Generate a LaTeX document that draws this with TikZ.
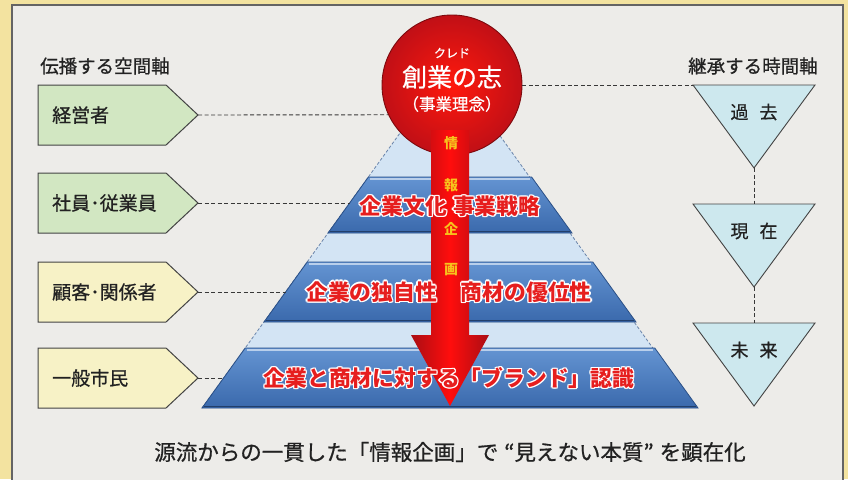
\documentclass[tikz,border=0pt]{standalone}
\usepackage{fontspec}
\setmainfont{Noto Sans CJK JP}
\newfontfamily\medfont[FakeBold=0.7]{Noto Sans CJK JP}
\usetikzlibrary{calc}
\definecolor{bgyellow}{HTML}{F3E3A0}
\definecolor{panel}{HTML}{EDECE9}
\definecolor{boxgreen}{HTML}{D2E7C2}
\definecolor{boxyellow}{HTML}{F7F2C6}
\definecolor{tri}{HTML}{CDE8EE}
\definecolor{pyrlight}{HTML}{D3E4F4}
\definecolor{bandtop}{HTML}{6494D2}
\definecolor{bandbot}{HTML}{3A69AC}
\definecolor{bandedge}{HTML}{2A4F86}
\definecolor{credred}{HTML}{E3121A}
\definecolor{txtred}{HTML}{E61E1E}
\definecolor{arrowtxt}{HTML}{F7C41C}
\definecolor{ink}{HTML}{222222}
\tikzset{
  boxline/.style={draw=ink!85, line width=1pt},
  lbl/.style={font=\medfont\fontsize{19}{19}\selectfont, text=ink, inner sep=0pt, anchor=west},
  hdr/.style={font=\medfont\fontsize{18.5}{18.5}\selectfont, text=ink, inner sep=0pt, anchor=west},
  conn/.style={draw=ink!90, line width=0.9pt, dash pattern=on 4pt off 2.5pt},
  bandtxt/.style={font=\bfseries\fontsize{21.8}{21.8}\selectfont, text=txtred, inner sep=0pt},
  bandshape/.style={top color=bandtop, bottom color=bandbot, draw=bandedge, line width=0.8pt},
  arrtxt/.style={font=\bfseries\fontsize{14}{14}\selectfont, text=arrowtxt, inner sep=0pt},
  tritxt/.style={font=\medfont\fontsize{18}{18}\selectfont, text=ink, inner sep=0pt},
  trishape/.style={fill=tri, draw=ink!85, line width=0.9pt},
  crtxt/.style={font=\medfont, text=white, inner sep=0pt},
}
\newcommand\lbox[4]{%
  \draw[boxline, fill=#3] (38,#2-30) -- (166,#2-30) -- (198,#2) -- (166,#2+30) -- (38,#2+30) -- cycle;
  \node[lbl] (#1) at (52,#2) {#4};
  \coordinate (#1tip) at (198,#2);}
\newcommand\rtri[3]{%
  \draw[trishape] (693,#2) -- (815,#2) -- (754,#2+83) -- cycle;
  \coordinate (#1TL) at (693,#2);
  \coordinate (#1top) at (754,#2);
  \coordinate (#1tip) at (754,#2+83);
  \node[tritxt] (#1) at (754,#2+27) {#3};}
\newcommand\band[4]{% ytop ybot Ltop Lbot
  \shade[bandshape] (#3,#1) -- (900-#3,#1) -- (900-#4,#2) -- (#4,#2) -- cycle;
  \draw[white!55!bandtop, line width=1.6pt] (#3+2,#1+2.2) -- (898-#3,#1+2.2);
  \draw[bandedge!80!black, line width=1.6pt] (#4+2,#2-1.5) -- (898-#4,#2-1.5);}
\newcommand\glowlabel[3]{%
  \foreach \dx/\dy in {1.3/0,-1.3/0,0/1.3,0/-1.3,1/1,-1/1,1/-1,-1/-1}{%
    \node[bandtxt, text=white] at ($(#2)+(\dx,\dy)$) {#3};}
  \node[bandtxt] (#1) at (#2) {#3};}
\begin{document}
\begin{tikzpicture}[x=1pt, y=-1pt]
\useasboundingbox (0,0) rectangle (848,479);
% background
\fill[bgyellow] (0,0) rectangle (848,479);
\draw[fill=panel, draw=ink!70, line width=1.2pt] (12,5) rectangle (843,490);
% headers
\node[hdr] (hl) at (40,66) {伝播する空間軸};
\node[hdr] (hr) at (688,66) {継承する時間軸};
% left boxes
\lbox{b1}{115}{boxgreen}{経営者}
\lbox{b2}{203}{boxgreen}{社員･従業員}
\lbox{b3}{292}{boxyellow}{顧客･関係者}
\lbox{b4}{378}{boxyellow}{一般市民}
% pyramid background
\fill[pyrlight] (449,65) -- (202,408) -- (696,408) -- cycle;
\draw[bandedge!70, line width=0.8pt, dash pattern=on 3pt off 2pt] (202,408) -- (449,65) -- (696,408);
% bands
\band{177}{233}{368.4}{328.0}
\band{262}{322}{307.2}{264.0}
\band{348}{408}{245.2}{202.0}
\coordinate (e1) at (349.6,203);
\coordinate (e2) at (285.6,292);
\coordinate (e3) at (223.6,378);
% circle
\node[circle, minimum size=140pt, inner sep=0pt, shade, inner color=red!90!orange!95!white, outer color=credred!85!black, draw=credred!55!black, line width=0.9pt] (cred) at (452,85) {};
% arrow
\shade[left color=credred!75!black, right color=credred!75!black, middle color=red!95!white]
  (431,130) -- (469,130) -- (469,335) -- (489,335) -- (450,406) -- (411,335) -- (431,335) -- cycle;
% circle texts
\node[crtxt, font=\medfont\fontsize{12}{12}\selectfont] (cr1) at (452,53) {クレド};
\node[crtxt, font=\medfont\fontsize{25}{25}\selectfont] (cr2) at (452,77) {創業の志};
\node[crtxt, font=\medfont\fontsize{16.5}{16.5}\selectfont] (cr3) at (452,104) {（事業理念）};
% arrow texts
\node[arrtxt] (a1) at (451,143) {情};
\node[arrtxt] (a2) at (451,185) {報};
\node[arrtxt] (a3) at (451,229) {企};
\node[arrtxt] (a4) at (451,270) {画};
% band texts
\coordinate (p1) at (450,206);
\coordinate (p2) at (449,292);
\coordinate (p3) at (449,378);
\glowlabel{t1}{p1}{企業文化\hspace{6pt}事業戦略}
\glowlabel{t2}{p2}{企業の独自性\hspace{24pt}商材の優位性}
\glowlabel{t3}{p3}{企業と商材に対する「ブランド」認識}
% right triangles
\rtri{r1}{85}{過\hspace{11pt}去}
\rtri{r2}{204}{現\hspace{11pt}在}
\rtri{r3}{323}{未\hspace{11pt}来}
% connectors
\draw[conn] (b1tip) -- (cred.205);
\draw[conn] (b2tip) -- (e1);
\draw[conn] (b3tip) -- (e2);
\draw[conn] (b4tip) -- (e3);
\draw[conn] (cred.east) -- (r1TL);
\draw[conn] (r1tip) -- (r2top);
\draw[conn] (r2tip) -- (r3top);
% bottom caption
\node[font=\medfont\fontsize{21.5}{21.5}\selectfont, text=ink, inner sep=0pt] (cap) at (450,452) {源流からの一貫した「情報企画」で\hspace{6pt}“見えない本質”\hspace{6pt}を顕在化};
\end{tikzpicture}
\end{document}
